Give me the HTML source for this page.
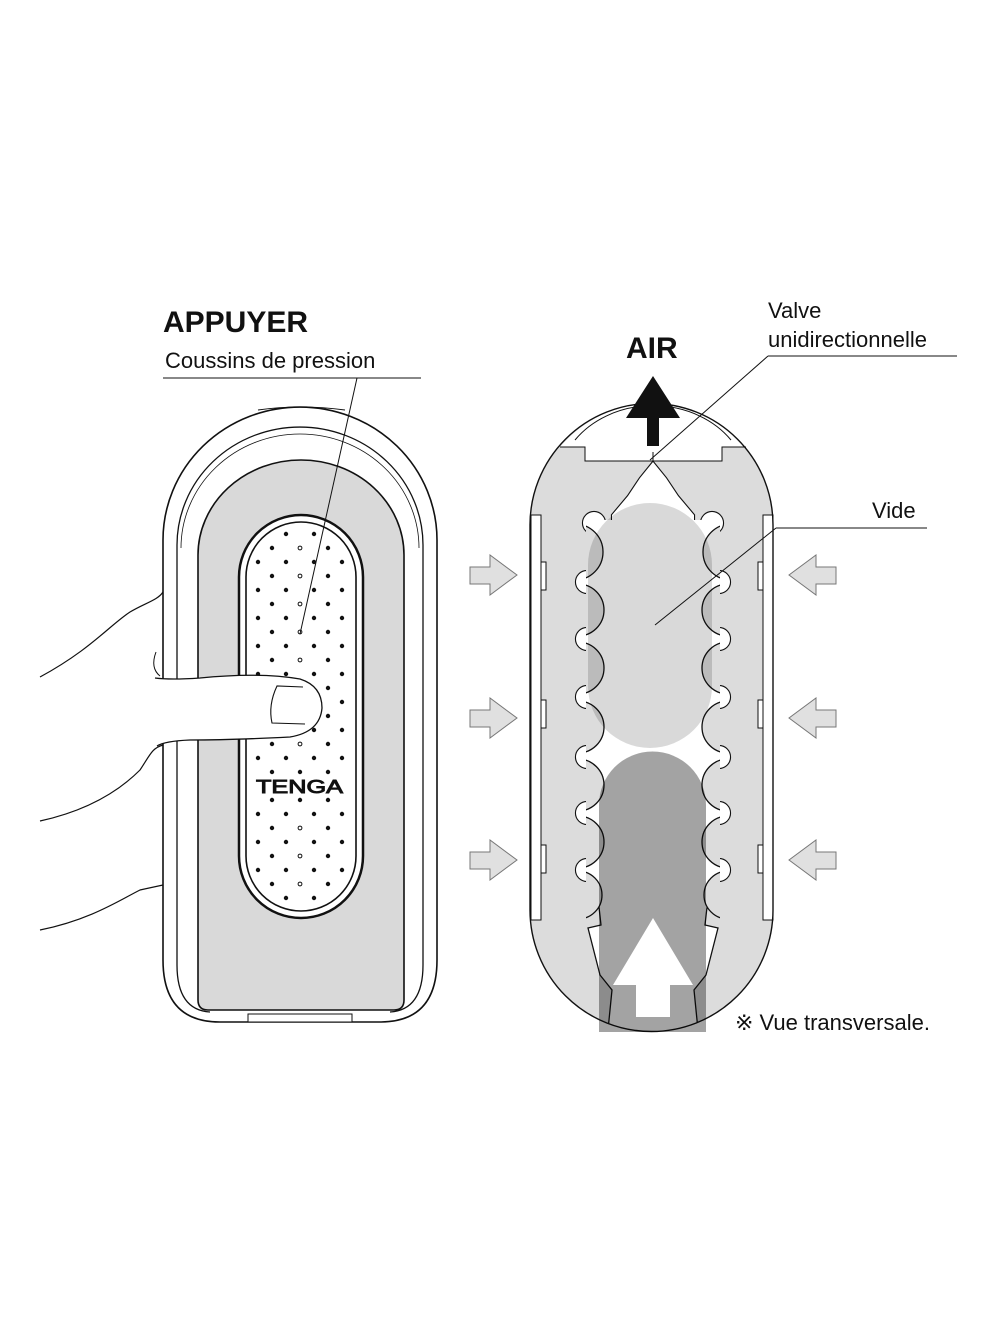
<!DOCTYPE html>
<html><head><meta charset="utf-8"><style>
html,body{margin:0;padding:0;background:#fff}
svg{display:block}
text{font-family:"Liberation Sans",Arial,sans-serif;fill:#111}
</style></head><body>
<svg width="1000" height="1333" viewBox="0 0 1000 1333" xmlns="http://www.w3.org/2000/svg">
<defs>
<clipPath id="chc"><rect x="586" y="470" width="134" height="580"/></clipPath>
<clipPath id="cap"><path d="M530,525 A121.5,121.5 0 0 1 773,525 L773,910 A121.5,121.5 0 0 1 530,910 Z"/></clipPath>
</defs>
<!-- LEFT DEVICE -->
<path d="M163,540 A137,133 0 0 1 437,540 L437,960 Q437,1022 380,1022 L220,1022 Q163,1022 163,960 Z" fill="#fff" stroke="#111" stroke-width="1.6"/>
<path d="M258,410 Q300,404 345,410" fill="none" stroke="#111" stroke-width="1"/>
<path d="M177,545 A123,118 0 0 1 423,545 L423,965 Q423,1010 390,1012 M177,545 L177,965 Q177,1010 210,1012" fill="none" stroke="#111" stroke-width="1.3"/>
<path d="M181,548 A119,114 0 0 1 419,548" fill="none" stroke="#111" stroke-width="0.8"/>
<path d="M198,555 A103,95 0 0 1 404,555 L404,1000 Q404,1010 394,1010 L208,1010 Q198,1010 198,1000 Z" fill="#d9d9d9" stroke="#111" stroke-width="1.6"/>
<path d="M248,1014 L352,1014 L352,1022 L248,1022 Z" fill="#fff" stroke="#111" stroke-width="1"/>
<rect x="239" y="515" width="124" height="403" rx="62" fill="#fff" stroke="#111" stroke-width="2.5"/>
<rect x="246" y="522" width="110" height="389" rx="55" fill="#fff" stroke="#111" stroke-width="1.6"/>
<g fill="#111">
<circle cx="286" cy="534" r="2.2"/><circle cx="314" cy="534" r="2.2"/>
<circle cx="272" cy="548" r="2.2"/><circle cx="300" cy="548" r="1.9" fill="none" stroke="#111" stroke-width="1"/><circle cx="328" cy="548" r="2.2"/>
<circle cx="258" cy="562" r="2.2"/><circle cx="286" cy="562" r="2.2"/><circle cx="314" cy="562" r="2.2"/><circle cx="342" cy="562" r="2.2"/>
<circle cx="272" cy="576" r="2.2"/><circle cx="300" cy="576" r="1.9" fill="none" stroke="#111" stroke-width="1"/><circle cx="328" cy="576" r="2.2"/>
<circle cx="258" cy="590" r="2.2"/><circle cx="286" cy="590" r="2.2"/><circle cx="314" cy="590" r="2.2"/><circle cx="342" cy="590" r="2.2"/>
<circle cx="272" cy="604" r="2.2"/><circle cx="300" cy="604" r="1.9" fill="none" stroke="#111" stroke-width="1"/><circle cx="328" cy="604" r="2.2"/>
<circle cx="258" cy="618" r="2.2"/><circle cx="286" cy="618" r="2.2"/><circle cx="314" cy="618" r="2.2"/><circle cx="342" cy="618" r="2.2"/>
<circle cx="272" cy="632" r="2.2"/><circle cx="300" cy="632" r="1.9" fill="none" stroke="#111" stroke-width="1"/><circle cx="328" cy="632" r="2.2"/>
<circle cx="258" cy="646" r="2.2"/><circle cx="286" cy="646" r="2.2"/><circle cx="314" cy="646" r="2.2"/><circle cx="342" cy="646" r="2.2"/>
<circle cx="272" cy="660" r="2.2"/><circle cx="300" cy="660" r="1.9" fill="none" stroke="#111" stroke-width="1"/><circle cx="328" cy="660" r="2.2"/>
<circle cx="258" cy="674" r="2.2"/><circle cx="286" cy="674" r="2.2"/><circle cx="314" cy="674" r="2.2"/><circle cx="342" cy="674" r="2.2"/>
<circle cx="328" cy="688" r="2.2"/>
<circle cx="342" cy="702" r="2.2"/>
<circle cx="328" cy="716" r="2.2"/>
<circle cx="314" cy="730" r="2.2"/><circle cx="342" cy="730" r="2.2"/>
<circle cx="272" cy="744" r="2.2"/><circle cx="300" cy="744" r="1.9" fill="none" stroke="#111" stroke-width="1"/><circle cx="328" cy="744" r="2.2"/>
<circle cx="258" cy="758" r="2.2"/><circle cx="286" cy="758" r="2.2"/><circle cx="314" cy="758" r="2.2"/><circle cx="342" cy="758" r="2.2"/>
<circle cx="272" cy="772" r="2.2"/><circle cx="300" cy="772" r="2.2"/><circle cx="328" cy="772" r="2.2"/>
<circle cx="272" cy="800" r="2.2"/><circle cx="300" cy="800" r="2.2"/><circle cx="328" cy="800" r="2.2"/>
<circle cx="258" cy="814" r="2.2"/><circle cx="286" cy="814" r="2.2"/><circle cx="314" cy="814" r="2.2"/><circle cx="342" cy="814" r="2.2"/>
<circle cx="272" cy="828" r="2.2"/><circle cx="300" cy="828" r="1.9" fill="none" stroke="#111" stroke-width="1"/><circle cx="328" cy="828" r="2.2"/>
<circle cx="258" cy="842" r="2.2"/><circle cx="286" cy="842" r="2.2"/><circle cx="314" cy="842" r="2.2"/><circle cx="342" cy="842" r="2.2"/>
<circle cx="272" cy="856" r="2.2"/><circle cx="300" cy="856" r="1.9" fill="none" stroke="#111" stroke-width="1"/><circle cx="328" cy="856" r="2.2"/>
<circle cx="258" cy="870" r="2.2"/><circle cx="286" cy="870" r="2.2"/><circle cx="314" cy="870" r="2.2"/><circle cx="342" cy="870" r="2.2"/>
<circle cx="272" cy="884" r="2.2"/><circle cx="300" cy="884" r="1.9" fill="none" stroke="#111" stroke-width="1"/><circle cx="328" cy="884" r="2.2"/>
<circle cx="286" cy="898" r="2.2"/><circle cx="314" cy="898" r="2.2"/>
</g>
<text x="256" y="793" font-size="18" fill="#fff" stroke="#111" stroke-width="0.9" textLength="87" lengthAdjust="spacingAndGlyphs">TENGA</text>
<!-- hand -->
<path d="M40,677 C90,650 110,625 130,612 C145,603 158,600 163,592" fill="none" stroke="#111" stroke-width="1.2"/>
<path d="M40,821 C90,810 120,790 140,770 C150,755 152,748 163,745" fill="none" stroke="#111" stroke-width="1.2"/>
<path d="M40,930 C90,920 120,900 140,890 L163,885" fill="none" stroke="#111" stroke-width="1.2"/>
<path d="M156,652 Q150,668 160,676" fill="none" stroke="#111" stroke-width="1"/>
<path d="M155,678 Q170,680 200,678 Q260,672 300,679 Q322,686 322,708 Q320,732 290,737 Q230,740 190,740 Q165,741 157,746 L157,678 Z" fill="#fff"/>
<path d="M155,678 Q170,680 200,678 Q260,672 300,679 Q322,686 322,708 Q320,732 290,737 Q230,740 190,740 Q165,741 157,746" fill="none" stroke="#111" stroke-width="1.3"/>
<path d="M303,687 L277,686 Q268,705 272,723 L305,724" fill="none" stroke="#111" stroke-width="1.1"/>
<!-- left labels -->
<text x="163" y="332" font-size="30" font-weight="bold">APPUYER</text>
<text x="165" y="368" font-size="22">Coussins de pression</text>
<line x1="163" y1="378" x2="421" y2="378" stroke="#111" stroke-width="1"/>
<line x1="357" y1="378" x2="300" y2="634" stroke="#111" stroke-width="1"/>

<!-- RIGHT DEVICE -->
<path d="M530,525 A121.5,121.5 0 0 1 773,525 L773,910 A121.5,121.5 0 0 1 530,910 Z" fill="#dcdcdc"/>
<path d="M560,447 A121.5,121.5 0 0 1 746,447 Z" fill="#fff"/>
<rect x="585" y="445" width="137" height="16" fill="#fff"/>
<path d="M560,447 L585,447 L585,461 L722,461 L722,447 L746,447" fill="none" stroke="#111" stroke-width="1"/>
<path d="M575,440 A95,80 0 0 1 731,440" fill="none" stroke="#111" stroke-width="1"/>
<line x1="653" y1="452" x2="653" y2="470" stroke="#111" stroke-width="1"/>
<rect x="531" y="515" width="10" height="405" fill="#fff" stroke="#111" stroke-width="1"/>
<rect x="763" y="515" width="10" height="405" fill="#fff" stroke="#111" stroke-width="1"/>
<g fill="#fff" stroke="#111" stroke-width="1">
<rect x="541" y="562" width="5" height="28"/><rect x="541" y="700" width="5" height="28"/><rect x="541" y="845" width="5" height="28"/>
<rect x="758" y="562" width="5" height="28"/><rect x="758" y="700" width="5" height="28"/><rect x="758" y="845" width="5" height="28"/>
</g>
<!-- channel -->
<g clip-path="url(#cap)">
<g stroke="#111" stroke-width="2.2" fill="#111">
<polygon points="653,462 640,478 628,496 612,515 612,540 694,540 694,515 678,496 666,478"/>
<circle cx="594" cy="523" r="11"/><circle cx="712" cy="523" r="11"/>
<circle cx="587" cy="582" r="11"/><circle cx="719" cy="582" r="11"/>
<circle cx="587" cy="639" r="11"/><circle cx="719" cy="639" r="11"/>
<circle cx="587" cy="697" r="11"/><circle cx="719" cy="697" r="11"/>
<circle cx="587" cy="757" r="11"/><circle cx="719" cy="757" r="11"/>
<circle cx="587" cy="813" r="11"/><circle cx="719" cy="813" r="11"/>
<circle cx="587" cy="870" r="11"/><circle cx="719" cy="870" r="11"/>
</g>
<g fill="#fff">
<rect x="586" y="520" width="134" height="530"/>
<polygon points="653,462 640,478 628,496 612,515 612,540 694,540 694,515 678,496 666,478"/>
<circle cx="594" cy="523" r="11"/><circle cx="712" cy="523" r="11"/>
<circle cx="587" cy="582" r="11"/><circle cx="719" cy="582" r="11"/>
<circle cx="587" cy="639" r="11"/><circle cx="719" cy="639" r="11"/>
<circle cx="587" cy="697" r="11"/><circle cx="719" cy="697" r="11"/>
<circle cx="587" cy="757" r="11"/><circle cx="719" cy="757" r="11"/>
<circle cx="587" cy="813" r="11"/><circle cx="719" cy="813" r="11"/>
<circle cx="587" cy="870" r="11"/><circle cx="719" cy="870" r="11"/>
</g>
<g clip-path="url(#chc)" fill="#dcdcdc" stroke="#111" stroke-width="1.3">
<circle cx="575" cy="552" r="28"/><circle cx="731" cy="552" r="28"/>
<circle cx="578" cy="610" r="26"/><circle cx="728" cy="610" r="26"/>
<circle cx="578" cy="668" r="26"/><circle cx="728" cy="668" r="26"/>
<circle cx="578" cy="727" r="26"/><circle cx="728" cy="727" r="26"/>
<circle cx="578" cy="785" r="26"/><circle cx="728" cy="785" r="26"/>
<circle cx="578" cy="842" r="26"/><circle cx="728" cy="842" r="26"/>
<polygon points="560,898 598,898 601,925 588,928 600,975 612,990 607,1040 560,1040"/>
<polygon points="746,898 708,898 705,925 718,928 706,975 694,990 699,1040 746,1040"/>
<circle cx="578" cy="895" r="24"/><circle cx="728" cy="895" r="24"/>
</g>
</g>
<path d="M530,525 A121.5,121.5 0 0 1 773,525 L773,910 A121.5,121.5 0 0 1 530,910 Z" fill="none" stroke="#111" stroke-width="1.4"/>
<!-- blobs -->
<rect x="588" y="503" width="124" height="245" rx="62" fill="#000" fill-opacity="0.15"/>
<path d="M599,1032 L599,805 A53.5,53.5 0 0 1 706,805 L706,1032 Z" fill="#000" fill-opacity="0.36"/>
<polygon points="653,918 693,985 670,985 670,1017 636,1017 636,985 613,985" fill="#fff"/>
<!-- AIR arrow -->
<polygon points="653,376 680,418 659,418 659,446 647,446 647,418 626,418" fill="#111"/>
<text x="626" y="358" font-size="30" font-weight="bold">AIR</text>
<!-- side arrows -->
<g fill="#e0e0e0" stroke="#777" stroke-width="1">
<polygon points="470,567 490,567 490,555 517,575 490,595 490,584 470,584"/>
<polygon points="470,710 490,710 490,698 517,718 490,738 490,727 470,727"/>
<polygon points="470,852 490,852 490,840 517,860 490,880 490,869 470,869"/>
<polygon points="836,567 816,567 816,555 789,575 816,595 816,584 836,584"/>
<polygon points="836,710 816,710 816,698 789,718 816,738 816,727 836,727"/>
<polygon points="836,852 816,852 816,840 789,860 816,880 816,869 836,869"/>
</g>
<!-- right labels -->
<text x="768" y="318" font-size="22">Valve</text>
<text x="768" y="347" font-size="22">unidirectionnelle</text>
<line x1="768" y1="356" x2="957" y2="356" stroke="#111" stroke-width="1"/>
<line x1="768" y1="356" x2="650" y2="460" stroke="#111" stroke-width="1"/>
<text x="872" y="518" font-size="22">Vide</text>
<line x1="776" y1="528" x2="927" y2="528" stroke="#111" stroke-width="1"/>
<line x1="776" y1="528" x2="655" y2="625" stroke="#111" stroke-width="1"/>
<text x="735" y="1030" font-size="22">※ Vue transversale.</text>
</svg>
</body></html>
